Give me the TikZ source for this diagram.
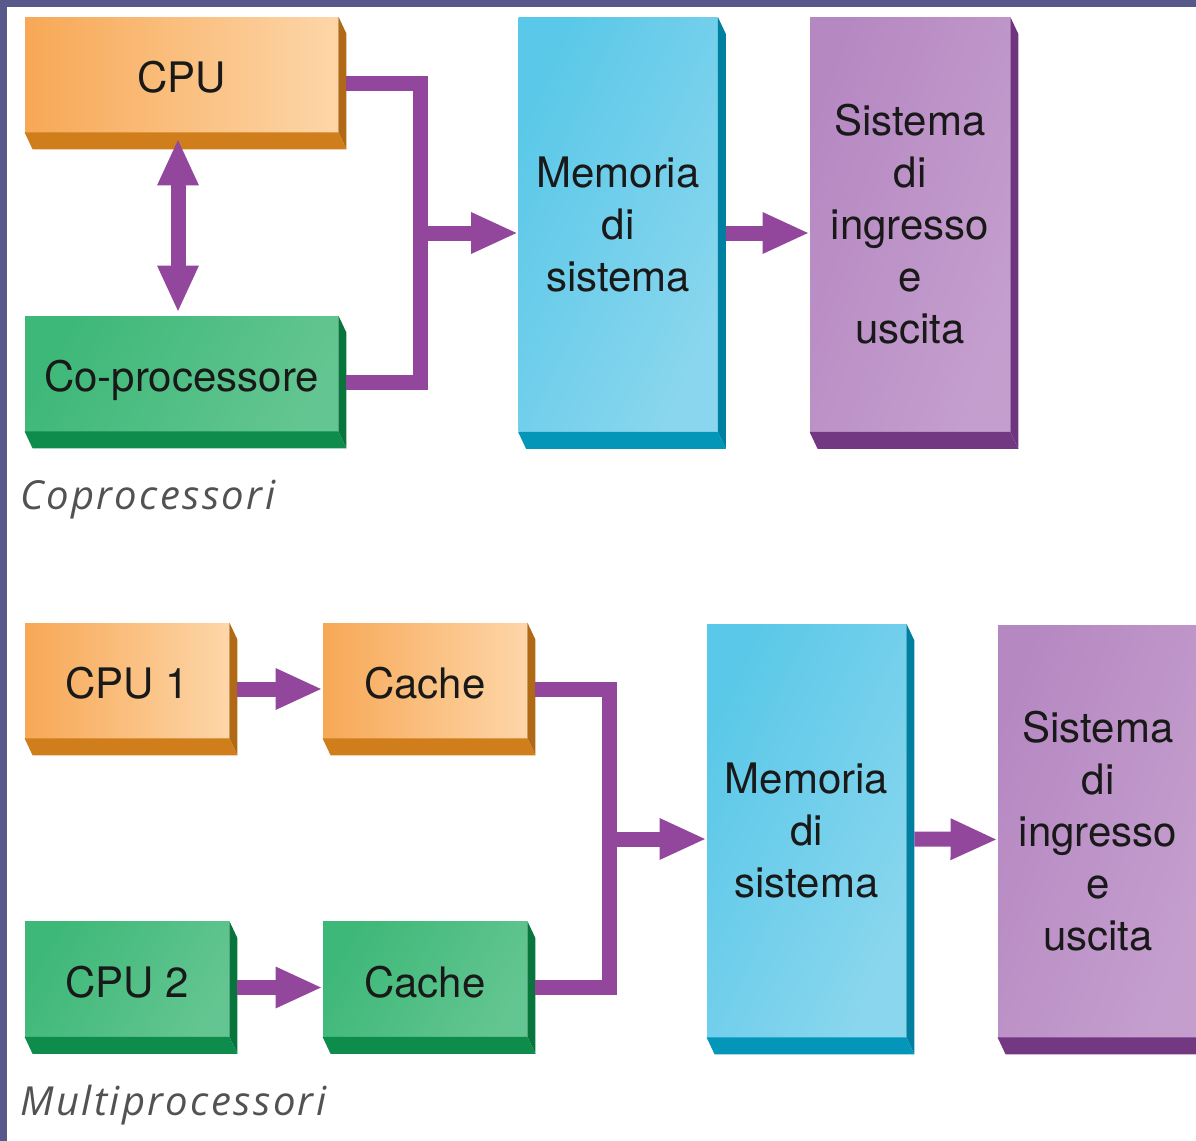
\documentclass[tikz,border=0pt]{standalone}
\usepackage{fontspec}
\setmainfont{TeX Gyre Heros}
\newfontfamily\capfont[LetterSpace=6,Ligatures=NoCommon]{Open Sans}
\usetikzlibrary{arrows.meta,calc}
\definecolor{bgstrip}{RGB}{86,89,138}
\definecolor{arrowc}{RGB}{146,71,156}
\definecolor{orA}{RGB}{247,168,86}
\definecolor{orB}{RGB}{253,214,168}
\definecolor{orSide}{RGB}{176,106,22}
\definecolor{orBot}{RGB}{208,126,28}
\definecolor{grA}{RGB}{62,184,120}
\definecolor{grB}{RGB}{184,228,202}
\definecolor{grSide}{RGB}{8,118,60}
\definecolor{grBot}{RGB}{14,140,76}
\definecolor{cyA}{RGB}{90,200,232}
\definecolor{cyB}{RGB}{178,226,243}
\definecolor{cySide}{RGB}{0,128,160}
\definecolor{cyBot}{RGB}{4,150,184}
\definecolor{puA}{RGB}{182,136,194}
\definecolor{puB}{RGB}{218,194,224}
\definecolor{puSide}{RGB}{110,52,126}
\definecolor{puBot}{RGB}{114,56,130}
\tikzset{
  box/.style={inner sep=0pt, align=center, text=black!90,
    font=\fontsize{21pt}{26pt}\selectfont},
  onebox/.style={box, text height=18.1pt, text depth=0pt},
  widebox/.style={onebox, minimum width=156.5pt, minimum height=57.5pt},
  smallbox/.style={onebox, minimum width=102pt, minimum height=57.5pt},
  tallbox/.style={box, minimum width=99.5pt, minimum height=207pt},
  orangeface/.style={left color=orA, right color=orB},
  greenface/.style={left color=grA, middle color=grB, right color=grA!70!grB, shading angle=60},
  cyanface/.style={left color=cyA, middle color=cyB, right color=cyA!45!cyB, shading angle=65},
  purpleface/.style={left color=puA, middle color=puB, right color=puA!60!puB, shading angle=70},
  bus/.style={draw=arrowc, line width=7.5pt, line join=miter},
  arr/.style={draw=arrowc, line width=7.5pt, -{Triangle[length=23.5pt,width=19pt]}},
  dblarr/.style={draw=arrowc, line width=7.5pt,
    {Triangle[length=23.5pt,width=19pt]}-{Triangle[length=23.5pt,width=19pt]}},
  caption/.style={anchor=base west, inner sep=0pt, text=black!68,
    font=\capfont\itshape\fontsize{20pt}{22pt}\selectfont}
}
\newcommand\extrude[3]{%
  \fill[#2] (#1.north east) -- ++(8,17) -- ($(#1.south east)+(8,17)$) -- (#1.south east) -- cycle;
  \fill[#3] (#1.south west) -- (#1.south east) -- ++(8,17) -- ($(#1.south west)+(8,17)$) -- cycle;}
\begin{document}
\begin{tikzpicture}[x=0.5pt,y=-0.5pt]
\useasboundingbox (0,0) rectangle (1196,1141);
\clip (0,0) rectangle (1196,1141);
\fill[bgstrip] (0,0) rectangle (1196,1141);
\fill[white] (7,7) rectangle (1196,1141);

% ---------- Coprocessori ----------
\node[widebox, orangeface] (cpu) at (181.5,74.5) {CPU};
\node[widebox, greenface] (cop) at (181.5,373.5) {Co-processore};
\node[tallbox, cyanface] (mem1) at (618,224.5) {Memoria\\di\\sistema};
\node[tallbox, purpleface, minimum width=100pt] (sys1) at (910,224.5) {Sistema\\di\\ingresso\\e\\uscita};
\extrude{cpu}{orSide}{orBot}
\extrude{cop}{grSide}{grBot}
\extrude{mem1}{cySide}{cyBot}
\extrude{sys1}{puSide}{puBot}

\coordinate (cpuout) at ($(cpu.east)+(8,8.5)$);
\coordinate (copout) at ($(cop.east)+(8,8.5)$);
\coordinate (mem1in) at ($(mem1.west)+(0,8.5)$);
\coordinate (mem1out) at ($(mem1.east)+(8,8.5)$);
\coordinate (sys1in) at ($(sys1.west)+(0,8.5)$);
\coordinate (bus1) at (420,0);
\draw[bus] (cpuout) -| (bus1 |- copout) -- (copout);
\draw[arr] (bus1 |- mem1in) -- (mem1in);
\draw[arr] (mem1out) -- (sys1in);
\draw[dblarr] ($(cpu.south)+(-3.5,6)$) -- ($(cop.north)+(-3.5,-3)$);

\node[caption] (cap1) at (20,509) {Coprocessori};

% ---------- Multiprocessori ----------
\node[smallbox, orangeface] (cpu1) at (127,680.5) {CPU 1};
\node[smallbox, orangeface] (cache1) at (425,680.5) {Cache};
\node[smallbox, greenface] (cpu2) at (127,979) {CPU 2};
\node[smallbox, greenface] (cache2) at (425,979) {Cache};
\node[tallbox, cyanface, minimum height=206.5pt] (mem2) at (806.5,830.5) {Memoria\\di\\sistema};
\node[tallbox, purpleface, minimum width=100pt, minimum height=206pt] (sys2) at (1098,831) {Sistema\\di\\ingresso\\e\\uscita};
\extrude{cpu1}{orSide}{orBot}
\extrude{cache1}{orSide}{orBot}
\extrude{cpu2}{grSide}{grBot}
\extrude{cache2}{grSide}{grBot}
\extrude{mem2}{cySide}{cyBot}
\extrude{sys2}{puSide}{puBot}

\draw[arr] ($(cpu1.east)+(8,8.5)$) -- ($(cache1.west)+(0,8.5)$);
\draw[arr] ($(cpu2.east)+(8,8.5)$) -- ($(cache2.west)+(0,8.5)$);
\coordinate (c1out) at ($(cache1.east)+(8,8.5)$);
\coordinate (c2out) at ($(cache2.east)+(8,8.5)$);
\coordinate (mem2in) at ($(mem2.west)+(0,8.5)$);
\coordinate (bus2) at (609,0);
\draw[bus] (c1out) -| (bus2 |- c2out) -- (c2out);
\draw[arr] (bus2 |- mem2in) -- (mem2in);
\draw[arr] ($(mem2.east)+(8,8.5)$) -- ($(sys2.west)+(0,8.5)$);

\node[caption] (cap2) at (20,1115) {Multiprocessori};
\end{tikzpicture}
\end{document}
